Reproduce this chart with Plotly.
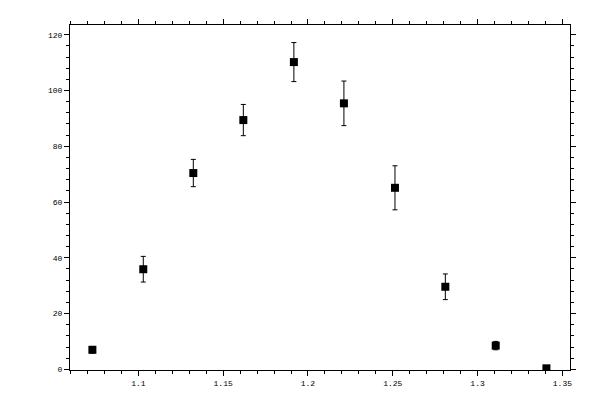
import plotly.graph_objects as go

x_vals = [1.0729, 1.1029, 1.1324, 1.1619, 1.1917, 1.2212, 1.2513, 1.2810, 1.3107, 1.3406]
y_vals = [7.0, 35.9, 70.4, 89.4, 110.2, 95.4, 65.1, 29.6, 8.5, 0.35]
y_err = [1.2, 4.6, 4.9, 5.6, 7.0, 8.0, 7.9, 4.6, 1.5, 0.3]

x_ticks = [1.1, 1.15, 1.2, 1.25, 1.3, 1.35]
x_tick_text = ["1.1", "1.15", "1.2", "1.25", "1.3", "1.35"]
y_ticks = [0, 20, 40, 60, 80, 100, 120]
y_tick_text = ["0", "20", "40", "60", "80", "100", "120"]

fig = go.Figure(go.Scatter(
    x=x_vals, y=y_vals, mode="markers",
    marker=dict(symbol="square", size=8, color="black"),
    error_y=dict(type="data", array=y_err, color="black", thickness=1, width=2.5),
))

font = dict(family="Liberation Mono, DejaVu Sans Mono, monospace", size=8, color="black")

fig.update_layout(
    width=592, height=392,
    margin=dict(l=62, r=30, t=11, b=30),
    paper_bgcolor="white", plot_bgcolor="white",
    showlegend=False,
    font=font,
    xaxis=dict(
        range=[1.0597, 1.3545], showgrid=False, zeroline=False,
        showline=True, linecolor="black", linewidth=1, mirror="ticks",
        ticks="outside", ticklen=5, tickwidth=1, tickcolor="black",
        tickvals=x_ticks, ticktext=x_tick_text,
        minor=dict(dtick=0.01, tick0=1.0, ticks="outside", ticklen=3, tickcolor="black", showgrid=False),
        tickfont=font,
    ),
    yaxis=dict(
        range=[-0.25, 123.5], showgrid=False, zeroline=False,
        showline=True, linecolor="black", linewidth=1, mirror="ticks",
        ticks="outside", ticklen=5, tickwidth=1, tickcolor="black",
        tickvals=y_ticks, ticktext=y_tick_text,
        minor=dict(dtick=4, tick0=0, ticks="outside", ticklen=3, tickcolor="black", showgrid=False),
        tickfont=font,
    ),
)

fig.write_html("out.html")
